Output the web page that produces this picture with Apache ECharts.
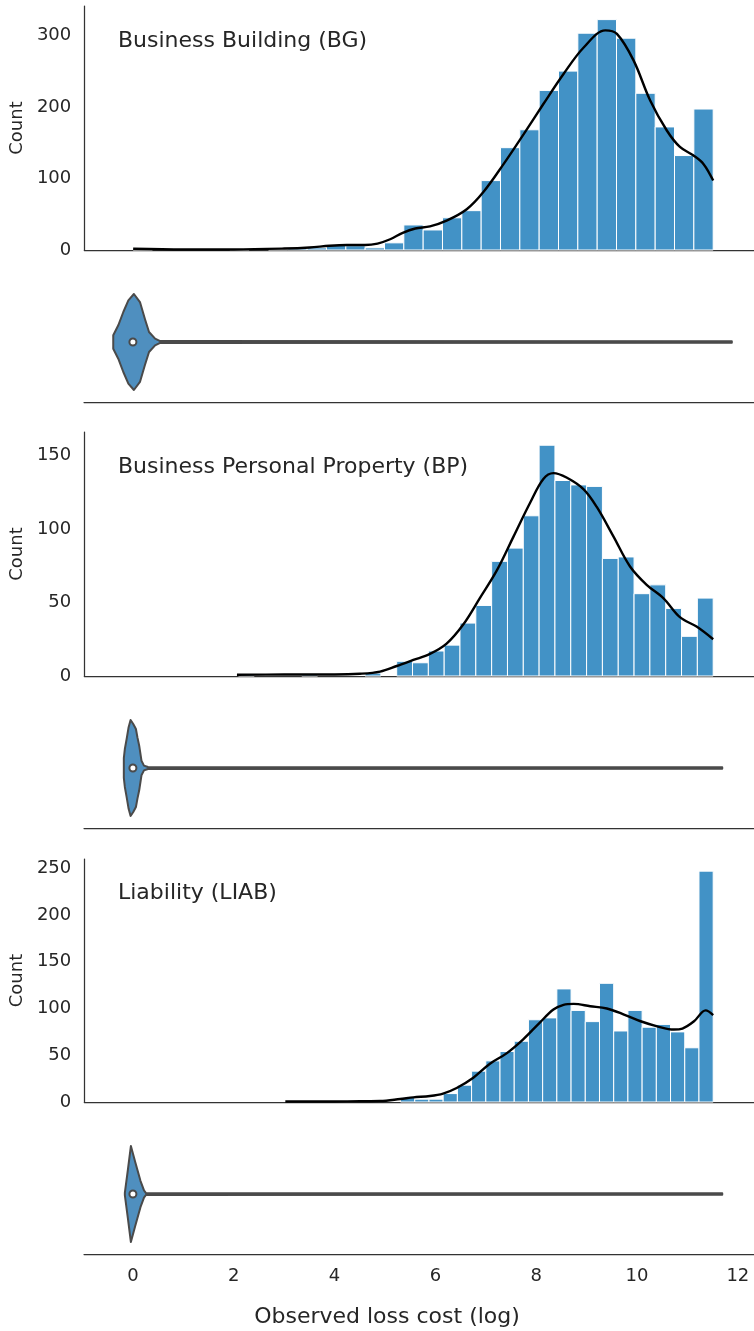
<!DOCTYPE html>
<html>
<head>
<meta charset="utf-8">
<script src="https://cdn.jsdelivr.net/npm/echarts@6/dist/echarts.min.js"></script>
<style>
html, body { margin: 0; padding: 0; background: #fff; }
#main { width: 754px; height: 1331px; }
</style>
</head>
<body>
<div id="main"></div>
<script>
var FONT = 'DejaVu Sans';

// shared x range (log loss cost)
var xMin = -0.97, xMax = 12.32;

// titles
var panelTitles = ['Business Building (BG)', 'Business Personal Property (BP)', 'Liability (LIAB)'];
var xTitle = 'Observed loss cost (log)';

// --- Business Building: 30 bins between bgRange
var bgRange = [0, 11.51];
var bgCounts = [2, 0, 0, 0, 0, 1, 0, 1, 2, 3, 7, 6, 3, 10, 35, 28, 45, 55, 97, 143,
                168, 223, 250, 303, 322, 296, 219, 172, 132, 197];
var bgKdeX = [0, 1, 2, 3, 3.5, 3.9, 4.24, 4.6, 4.85, 5.1, 5.35, 5.6, 5.89, 6.22, 6.62, 6.95, 7.35,
              7.75, 8.14, 8.54, 8.94, 9.37, 9.6, 9.93, 10.26, 10.59, 10.85, 11.12, 11.32, 11.51];
var bgKdeY = [1.8, 0.8, 0.8, 2, 3.5, 6, 7, 7, 9, 15, 24, 30, 33, 41, 57, 81, 120,
              162, 204, 246, 283, 307, 302, 265, 209, 167, 144, 132, 120, 97];
var bgViolinX = [-0.39, -0.29, -0.19, -0.09, 0.02, 0.14, 0.24, 0.32, 0.44, 0.54, 11.88];
var bgViolinW = [0.056, 0.139, 0.25, 0.347, 0.40, 0.333, 0.19, 0.083, 0.028, 0.008, 0.006];

// --- Business Personal Property
var bpRange = [2.09, 11.51];
var bpCounts = [1, 0, 0, 0, 1, 0, 0, 0, 2, 0, 10, 9, 17, 21, 36, 48, 78, 87, 109, 157,
                133, 130, 129, 80, 81, 56, 62, 46, 27, 53];
var bpKdeX = [2.06, 3, 4, 4.5, 4.9, 5.23, 5.56, 5.89, 6.22, 6.55, 6.88, 7.22, 7.55, 7.88, 8.14,
              8.34, 8.6, 8.94, 9.2, 9.53, 9.86, 10.19, 10.52, 10.85, 11.18, 11.51];
var bpKdeY = [0.8, 1, 1, 1.5, 3, 6.8, 10.9, 15, 22, 35, 53, 72, 95, 118, 134,
              138, 135, 127, 115, 95, 74.5, 62, 53, 40, 33.6, 25];
var bpViolinX = [-0.18, -0.16, -0.125, -0.085, -0.046, 0.007, 0.06, 0.09, 0.125, 0.17, 0.22, 0.3, 11.69];
var bpViolinW = [0.083, 0.158, 0.24, 0.34, 0.40, 0.367, 0.325, 0.255, 0.186, 0.061, 0.02, 0.008, 0.006];

// --- Liability
var liabRange = [3.05, 11.51];
var liabCounts = [0, 0, 0, 0, 0, 0, 0, 0, 5, 3, 3, 9, 18, 33, 44, 54, 65, 88, 90, 121,
                  98, 86, 127, 76, 98, 80, 83, 75, 58, 247];
var liabKdeX = [3.02, 4, 4.5, 4.9, 5.3, 5.56, 5.89, 6.15, 6.42, 6.75, 7.08, 7.41, 7.74, 8.07,
                8.34, 8.54, 8.74, 9.07, 9.4, 9.74, 10.07, 10.4, 10.73, 10.9, 11.13, 11.36, 11.51];
var liabKdeY = [0.5, 0.6, 0.8, 1, 3.2, 5, 6.4, 9, 15, 26, 41, 52, 67, 85,
                99, 104, 105, 102.5, 100, 93.6, 86.4, 81, 77.5, 78.6, 86.4, 98, 93];
var liabViolinX = [-0.16, -0.1, -0.04, 0.05, 0.15, 0.22, 0.26, 11.69];
var liabViolinW = [0.01, 0.2, 0.40, 0.26, 0.11, 0.03, 0.008, 0.006];

var medians = [0, 0, 0];
var yMaxes = [341, 166, 260];
var yIntervals = [100, 50, 50];

var barColor = '#4292c6';
var violinColor = '#4f8fbf';
var outline = '#4a4a4a';
var axisColor = '#333333';
var textColor = '#262626';

// grid layout: hist, violin, hist, violin, hist, violin
var grids = [
    { left: 84, right: 0, top: 6, height: 244 },
    { left: 84, right: 0, top: 282, height: 120 },
    { left: 84, right: 0, top: 432, height: 244 },
    { left: 84, right: 0, top: 708, height: 120 },
    { left: 84, right: 0, top: 859, height: 243 },
    { left: 84, right: 0, top: 1134, height: 120 }
];

function histSeries(idx, range, counts) {
    var w = (range[1] - range[0]) / counts.length;
    var data = [];
    counts.forEach(function (c, i) {
        if (c > 0) data.push([range[0] + i * w, range[0] + (i + 1) * w, c]);
    });
    return {
        type: 'custom',
        xAxisIndex: idx,
        yAxisIndex: idx,
        data: data,
        encode: { x: [0, 1], y: 2 },
        silent: true,
        renderItem: function (params, api) {
            var p0 = api.coord([api.value(0), api.value(2)]);
            var p1 = api.coord([api.value(1), 0]);
            return {
                type: 'rect',
                shape: { x: p0[0], y: p0[1], width: p1[0] - p0[0], height: p1[1] - p0[1] },
                style: { fill: barColor, stroke: '#ffffff', lineWidth: 1 }
            };
        }
    };
}

function kdeSeries(idx, xs, ys) {
    return {
        type: 'line',
        xAxisIndex: idx,
        yAxisIndex: idx,
        data: xs.map(function (x, i) { return [x, ys[i]]; }),
        smooth: 0.35,
        symbol: 'none',
        lineStyle: { color: '#000', width: 2.4 },
        z: 5
    };
}

function violinSeries(idx, xs, ws) {
    return {
        type: 'custom',
        xAxisIndex: idx,
        yAxisIndex: idx,
        data: [[0, 0]],
        clip: false,
        silent: true,
        renderItem: function (params, api) {
            var pts = [];
            for (var i = 0; i < xs.length; i++) pts.push(api.coord([xs[i], ws[i]]));
            for (var j = xs.length - 1; j >= 0; j--) pts.push(api.coord([xs[j], -ws[j]]));
            return {
                type: 'polygon',
                shape: { points: pts },
                style: { fill: violinColor, stroke: outline, lineWidth: 2, lineJoin: 'round' }
            };
        }
    };
}

function medianSeries(idx, m) {
    return {
        type: 'scatter',
        xAxisIndex: idx,
        yAxisIndex: idx,
        data: [[m, 0]],
        symbolSize: 7,
        itemStyle: { color: '#ffffff', borderColor: outline, borderWidth: 2, opacity: 1 },
        z: 10
    };
}

var xAxes = grids.map(function (g, i) {
    return {
        type: 'value',
        gridIndex: i,
        min: xMin,
        max: xMax,
        splitNumber: 6,
        axisLine: { show: true, onZero: false, lineStyle: { color: axisColor, width: 1.25 } },
        axisTick: { show: false },
        splitLine: { show: false },
        axisLabel: {
            show: i === 5,
            showMinLabel: false,
            showMaxLabel: false,
            color: textColor,
            fontSize: 18,
            fontFamily: FONT,
            margin: 13,
            formatter: function (v) { return (Math.abs(v - Math.round(v)) < 1e-6) ? String(Math.round(v)) : ''; }
        }
    };
});

var yAxes = grids.map(function (g, i) {
    if (i % 2 === 1) {
        return { type: 'value', gridIndex: i, min: -0.5, max: 0.5, show: false };
    }
    var k = i / 2;
    return {
        type: 'value',
        gridIndex: i,
        min: 0,
        max: yMaxes[k],
        interval: yIntervals[k],
        name: 'Count',
        nameLocation: 'middle',
        nameGap: 53,
        nameTextStyle: { color: textColor, fontSize: 18, fontFamily: FONT },
        axisLine: { show: true, onZero: false, lineStyle: { color: axisColor, width: 1.25 } },
        axisTick: { show: false },
        splitLine: { show: false },
        axisLabel: {
            color: textColor,
            fontSize: 18,
            fontFamily: FONT,
            margin: 13,
            showMaxLabel: false,
            formatter: function (v) { return v % yIntervals[k] === 0 ? String(v) : ''; }
        }
    };
});

var titleY = [41, 467, 893];
var graphics = panelTitles.map(function (t, i) {
    return {
        type: 'text',
        x: 118,
        y: titleY[i],
        style: { text: t, font: '22px "DejaVu Sans"', fill: textColor, align: 'left', verticalAlign: 'middle' }
    };
});
graphics.push({
    type: 'text',
    x: 387,
    y: 1317,
    style: { text: xTitle, font: '22px "DejaVu Sans"', fill: textColor, align: 'center', verticalAlign: 'middle' }
});

var series = [
    histSeries(0, bgRange, bgCounts),
    kdeSeries(0, bgKdeX, bgKdeY),
    violinSeries(1, bgViolinX, bgViolinW),
    medianSeries(1, medians[0]),
    histSeries(2, bpRange, bpCounts),
    kdeSeries(2, bpKdeX, bpKdeY),
    violinSeries(3, bpViolinX, bpViolinW),
    medianSeries(3, medians[1]),
    histSeries(4, liabRange, liabCounts),
    kdeSeries(4, liabKdeX, liabKdeY),
    violinSeries(5, liabViolinX, liabViolinW),
    medianSeries(5, medians[2])
];

var myChart = echarts.init(document.getElementById('main'));
myChart.setOption({
    animation: false,
    backgroundColor: '#ffffff',
    textStyle: { fontFamily: FONT },
    grid: grids,
    xAxis: xAxes,
    yAxis: yAxes,
    graphic: graphics,
    series: series
});
</script>
</body>
</html>
